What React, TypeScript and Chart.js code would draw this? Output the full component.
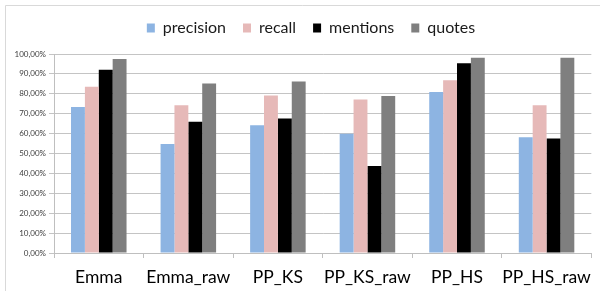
import React, { useEffect, useRef } from "react";
import { Chart, registerables } from "chart.js";

Chart.register(...registerables);

const categories = ["Emma", "Emma_raw", "PP_KS", "PP_KS_raw", "PP_HS", "PP_HS_raw"];
const seriesNames = ["precision", "recall", "mentions", "quotes"];
const precision = [73.4, 54.8, 64.2, 59.9, 80.9, 58.2];
const recall = [83.5, 74.2, 79.1, 77.1, 86.8, 74.2];
const mentions = [92.1, 65.9, 67.6, 43.7, 95.3, 57.5];
const quotes = [97.5, 85.2, 86.2, 78.9, 98.1, 98.1];
const colors = ["#8DB4E2", "#E6B9B8", "#000000", "#7F7F7F"];

const frame = {
  id: "frame",
  beforeDraw(chart: any) {
    const ctx = chart.ctx;
    ctx.save();
    ctx.fillStyle = "#ffffff";
    ctx.fillRect(0, 0, chart.width, chart.height);
    ctx.strokeStyle = "#d9d9d9";
    ctx.lineWidth = 1;
    ctx.beginPath();
    ctx.moveTo(5.5, chart.height);
    ctx.lineTo(5.5, 5.5);
    ctx.lineTo(chart.width, 5.5);
    ctx.stroke();
    ctx.restore();
  },
};

const legendShift = {
  id: "legendShift",
  afterLayout(chart: any) {
    const l = chart.legend;
    if (!l) return;
    l.top -= 8;
    l.bottom -= 8;
    l.left += 12;
    l.right += 12;
  },
};

export default function App() {
  const ref = useRef<HTMLCanvasElement>(null);
  useEffect(() => {
    if (!ref.current) return;
    const data = [precision, recall, mentions, quotes];
    const chart = new Chart(ref.current, {
      type: "bar",
      data: {
        labels: categories,
        datasets: seriesNames.map((name, i) => ({
          label: name,
          data: data[i],
          backgroundColor: colors[i],
          borderWidth: 0,
          categoryPercentage: 0.62,
          barPercentage: 1,
        })),
      },
      options: {
        responsive: false,
        animation: false,
        layout: { padding: { top: 11, left: 0, right: 2, bottom: 0 } },
        plugins: {
          legend: {
            position: "top",
            labels: {
              font: { family: "Lato", size: 16 },
              color: "#1a1a1a",
              boxWidth: 8,
              boxHeight: 9,
              padding: 17,
            },
          },
          tooltip: { enabled: false },
        },
        scales: {
          x: {
            grid: {
              offset: true,
              drawOnChartArea: false,
              tickLength: 5,
              color: "#bfbfbf",
            },
            border: { color: "#bfbfbf" },
            ticks: {
              font: { family: "Lato", size: 17.5 },
              color: "#000000",
              padding: 9,
              maxRotation: 0,
              minRotation: 0,
              autoSkip: false,
            },
            afterFit(scale: any) {
              scale.height = 38;
            },
          },
          y: {
            min: 0,
            max: 100,
            grid: { color: "#c4c4c4", tickLength: 5 },
            border: { color: "#bfbfbf" },
            ticks: {
              stepSize: 10,
              font: { family: "Lato", size: 8 },
              color: "#404040",
              padding: 3,
              callback: (v: any) => Number(v).toFixed(2).replace(".", ",") + "%",
            },
            afterFit(scale: any) {
              scale.width = 54;
            },
          },
        },
      },
      plugins: [frame, legendShift],
    });
    return () => chart.destroy();
  }, []);
  return (
    <div style={{ position: "fixed", left: 0, top: 0, width: 600, height: 291, background: "#fff" }}>
      <canvas ref={ref} width={600} height={291} style={{ display: "block" }} />
    </div>
  );
}
